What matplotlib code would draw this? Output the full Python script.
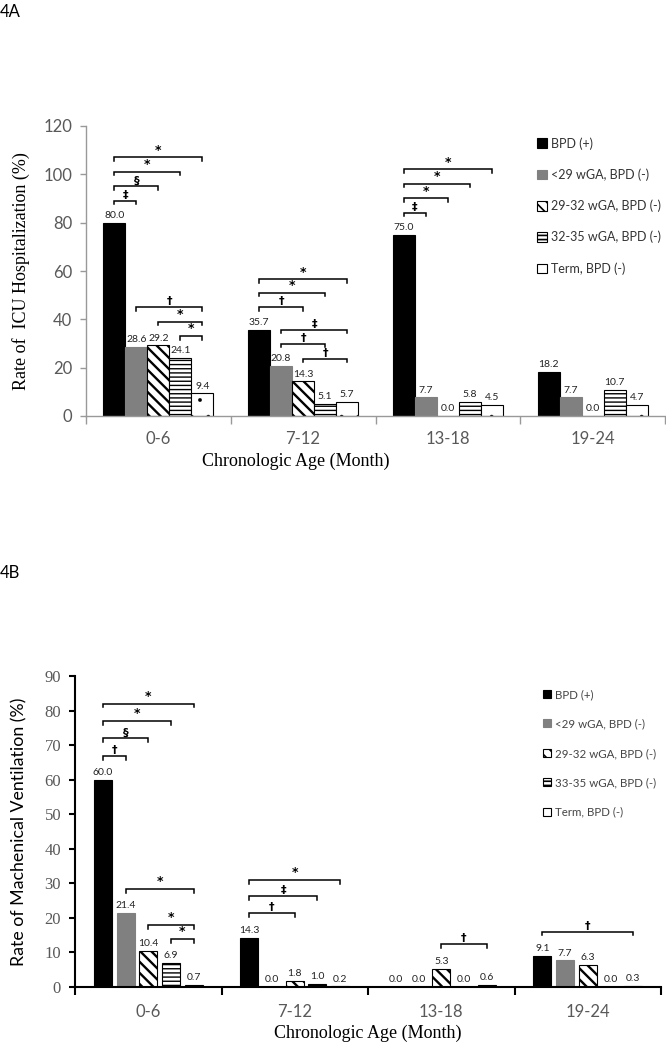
import matplotlib
matplotlib.use('Agg')
import matplotlib.pyplot as plt
import numpy as np

SANS = 'Lato'
SERIF = 'Liberation Serif'
plt.rcParams['font.family'] = [SANS, 'DejaVu Sans']
plt.rcParams['hatch.linewidth'] = 1.2

age_groups = ['0-6', '7-12', '13-18', '19-24']

# 4A: ICU hospitalization (%)
icu_labels = ['BPD (+)', '<29 wGA, BPD (-)', '29-32 wGA, BPD (-)',
              '32-35 wGA, BPD (-)', 'Term, BPD (-)']
icu_bpd = [80.0, 35.7, 75.0, 18.2]
icu_lt29 = [28.6, 20.8, 7.7, 7.7]
icu_29_32 = [29.2, 14.3, 0.0, 0.0]
icu_32_35 = [24.1, 5.1, 5.8, 10.7]
icu_term = [9.4, 5.7, 4.5, 4.7]

# 4B: mechanical ventilation (%)
mv_labels = ['BPD (+)', '<29 wGA, BPD (-)', '29-32 wGA, BPD (-)',
             '33-35 wGA, BPD (-)', 'Term, BPD (-)']
mv_bpd = [60.0, 14.3, 0.0, 9.1]
mv_lt29 = [21.4, 0.0, 0.0, 7.7]
mv_29_32 = [10.4, 1.8, 5.3, 6.3]
mv_33_35 = [6.9, 1.0, 0.0, 0.0]
mv_term = [0.7, 0.2, 0.6, 0.3]

# significance brackets: (age group, from bar, to bar, height, symbol)
icu_sig = [
    (0, 0, 1, 89, '‡'), (0, 0, 2, 95, '§'), (0, 0, 3, 101, '*'), (0, 0, 4, 107, '*'),
    (0, 1, 4, 45, '†'), (0, 2, 4, 39, '*'), (0, 3, 4, 33, '*'),
    (1, 0, 2, 45, '†'), (1, 0, 3, 51, '*'), (1, 0, 4, 56.5, '*'),
    (1, 1, 4, 35.6, '‡'), (1, 1, 3, 30, '†'), (1, 2, 4, 23.6, '†'),
    (2, 0, 1, 84, '‡'), (2, 0, 2, 90, '*'), (2, 0, 3, 96, '*'), (2, 0, 4, 102, '*'),
]
mv_sig = [
    (0, 0, 1, 66.8, '†'), (0, 0, 2, 72, '§'), (0, 0, 3, 77, '*'), (0, 0, 4, 82, '*'),
    (0, 1, 4, 28.4, '*'), (0, 2, 4, 18, '*'), (0, 3, 4, 13.9, '*'),
    (1, 0, 2, 21.4, '†'), (1, 0, 3, 26.3, '‡'), (1, 0, 4, 31, '*'),
    (2, 2, 4, 12.4, '†'),
    (3, 0, 4, 16, '†'),
]

STYLES = [
    dict(color='black', edgecolor='black'),
    dict(color='#808080', edgecolor='#808080'),
    dict(color='white', edgecolor='black', hatch='\\\\\\', hlw=1.7),
    dict(color='white', edgecolor='black', hatch='----', hlw=1.0),
    dict(color='white', edgecolor='black', hatch='.', hlw=0.3),
]


def set_hatch_lw(artist, lw):
    if lw is not None and hasattr(artist, 'set_hatch_linewidth'):
        artist.set_hatch_linewidth(lw)


def draw_panel(ax, series, labels, sig, step, width, ymax, ystep, tick_col,
               spine_col, spine_w, tick_font, tick_size, tick_pad, tick_len):
    x = np.arange(len(age_groups))
    centers = []
    handles = []
    for k, vals in enumerate(series):
        pos = x + (k - 2) * step
        centers.append(pos)
        st = STYLES[k]
        b = ax.bar(pos, vals, width, facecolor=st['color'],
                   edgecolor=st['edgecolor'], hatch=st.get('hatch'),
                   linewidth=0.8, label=labels[k])
        for p in b.patches:
            set_hatch_lw(p, st.get('hlw'))
        handles.append(b)
        for px, v in zip(pos, vals):
            ax.annotate(f'{v:.1f}', (px, v), xytext=(0, 2),
                        textcoords='offset points', ha='center', va='bottom',
                        fontsize=7.5, color='#222222')

    tick = ymax * 0.012
    for g, i, j, h, sym in sig:
        x0, x1 = centers[i][g], centers[j][g]
        ax.plot([x0, x0, x1, x1], [h - tick, h, h, h - tick], color='black',
                lw=1.1, solid_joinstyle='miter')
        ax.text((x0 + x1) / 2, h + ymax * 0.003, sym, ha='center', va='bottom',
                fontsize=8 if sym != '*' else 9, fontweight='bold',
                family='DejaVu Sans')

    ax.set_xlim(-0.5, len(age_groups) - 0.5)
    ax.set_ylim(0, ymax)
    ax.set_yticks(np.arange(0, ymax + 1, ystep))
    ax.set_xticks(x)
    ax.set_xticklabels(age_groups, fontsize=12, color='#595959')
    ax.set_xticks(np.arange(-0.5, len(age_groups)), minor=True)
    ax.tick_params(axis='x', which='major', length=0, pad=tick_pad)
    ax.tick_params(axis='x', which='minor', length=tick_len, color=spine_col,
                   width=spine_w, direction='out')
    ax.tick_params(axis='y', length=4, color=spine_col, width=spine_w,
                   labelcolor=tick_col, labelsize=tick_size, pad=6,
                   labelfontfamily=tick_font)
    for s in ['top', 'right']:
        ax.spines[s].set_visible(False)
    for s in ['left', 'bottom']:
        ax.spines[s].set_color(spine_col)
        ax.spines[s].set_linewidth(spine_w)
    return handles


fig = plt.figure(figsize=(6.66, 10.49), dpi=100)

# ---- 4A
ax1 = fig.add_axes([86 / 666, 1 - 416 / 1049, 579 / 666, 290 / 1049])
h1 = draw_panel(ax1, [icu_bpd, icu_lt29, icu_29_32, icu_32_35, icu_term],
                icu_labels, icu_sig, step=0.152, width=0.152, ymax=120,
                ystep=20, tick_col='#595959', spine_col='#999999', spine_w=1.0,
                tick_font=SANS, tick_size=12, tick_pad=11, tick_len=6)
ax1.set_ylabel('Rate of  ICU Hospitalization (%)', family=SERIF, fontsize=13)
ax1.yaxis.set_label_coords(-0.097, 0.5)
ax1.set_xlabel('Chronologic Age (Month)', family=SERIF, fontsize=13)
ax1.xaxis.set_label_coords(0.363, -0.125)
ax1.legend(handles=h1, loc='upper left', bbox_to_anchor=(537 / 666, 1 - 137 / 1049),
           bbox_transform=fig.transFigure, frameon=False, borderpad=0,
           borderaxespad=0, handlelength=0.8, handleheight=0.8,
           handletextpad=0.3, labelspacing=1.5, fontsize=9,
           labelcolor='#333333')
fig.text(0.0, 1 - 12 / 1049, '4A', fontsize=12, va='center', ha='left')

# ---- 4B
ax2 = fig.add_axes([75 / 666, 1 - 987 / 1049, 586 / 666, 311 / 1049])
h2 = draw_panel(ax2, [mv_bpd, mv_lt29, mv_29_32, mv_33_35, mv_term],
                mv_labels, mv_sig, step=0.155, width=0.123, ymax=90,
                ystep=10, tick_col='#595959', spine_col='black', spine_w=1.5,
                tick_font=SERIF, tick_size=12, tick_pad=12, tick_len=6)
ax2.set_ylabel('Rate of Machenical Ventilation (%)', fontsize=12.8)
ax2.yaxis.set_label_coords(-0.082, 0.5)
ax2.set_xlabel('Chronologic Age (Month)', family=SERIF, fontsize=13)
ax2.xaxis.set_label_coords(0.5, -0.12)
ax2.legend(handles=h2, loc='upper left', bbox_to_anchor=(543 / 666, 1 - 689 / 1049),
           bbox_transform=fig.transFigure, frameon=False, borderpad=0,
           borderaxespad=0, handlelength=0.7, handleheight=0.7,
           handletextpad=0.3, labelspacing=1.6, fontsize=8.3,
           labelcolor='#444444')
fig.text(0.0, 1 - 573 / 1049, '4B', fontsize=12, va='center', ha='left')

fig.savefig('out.png', dpi=100)
